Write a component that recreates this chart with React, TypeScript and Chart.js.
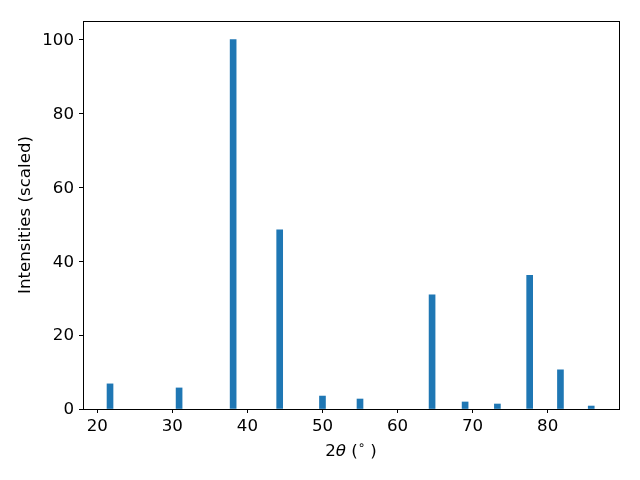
import React, { useEffect, useRef } from "react";
import { Chart, registerables } from "chart.js";

Chart.register(...registerables);

const twoTheta = [21.7, 30.9, 38.1, 44.3, 50.0, 55.0, 64.6, 69.0, 73.3, 77.6, 81.7, 85.8];
const intensities = [6.8, 5.7, 100, 48.5, 3.5, 2.7, 30.9, 1.9, 1.35, 36.2, 10.6, 0.8];
const xTicks = [20, 30, 40, 50, 60, 70, 80];
const yTicks = [0, 20, 40, 60, 80, 100];

const FONT = "'DejaVu Sans', sans-serif";
const FS = 16.67;

const boxPlugin = {
  id: "box",
  afterDraw(chart: any) {
    const { ctx, chartArea } = chart;
    ctx.save();
    ctx.strokeStyle = "#000";
    ctx.lineWidth = 1;
    ctx.strokeRect(
      Math.round(chartArea.left) + 0.5,
      Math.round(chartArea.top) + 0.5,
      Math.round(chartArea.right - chartArea.left),
      Math.round(chartArea.bottom - chartArea.top)
    );
    // x-axis label: 2θ (°) in mathtext style
    const pieces: [string, string, number, number][] = [
      ["2", "normal", FS, 0],
      ["θ", "italic", FS, 0],
      [" (", "normal", FS, 0],
      ["∘", "normal", FS * 0.7, -6],
      [" )", "normal", FS, 0],
    ];
    let total = 0;
    for (const [t, st, sz] of pieces) {
      ctx.font = `${st} ${sz}px ${FONT}`;
      total += ctx.measureText(t).width;
    }
    let x = (chartArea.left + chartArea.right) / 2 - total / 2;
    const y = 452;
    ctx.fillStyle = "#000";
    ctx.textBaseline = "middle";
    ctx.textAlign = "left";
    for (const [t, st, sz, dy] of pieces) {
      ctx.font = `${st} ${sz}px ${FONT}`;
      ctx.fillText(t, x, y + dy);
      x += ctx.measureText(t).width;
    }
    ctx.restore();
  },
};

export default function App() {
  const ref = useRef<HTMLCanvasElement>(null);
  useEffect(() => {
    document.body.style.margin = "0";
    const chart = new Chart(ref.current!, {
      type: "bar",
      data: {
        datasets: [
          {
            data: twoTheta.map((x, i) => ({ x, y: intensities[i] })),
            backgroundColor: "#1f77b4",
            borderWidth: 0,
            barThickness: 6,
          },
        ],
      },
      options: {
        responsive: false,
        animation: false,
        layout: { padding: { left: 16, right: 21, top: 21, bottom: 0 } },
        plugins: { legend: { display: false }, tooltip: { enabled: false } },
        scales: {
          x: {
            type: "linear",
            offset: false,
            min: 18.1,
            max: 89.5,
            afterBuildTicks: (s: any) => {
              s.ticks = xTicks.map((v) => ({ value: v }));
            },
            afterFit: (s: any) => {
              s.height = 480 - 409;
            },
            grid: { offset: false, drawOnChartArea: false, tickLength: 4, tickColor: "#000" },
            border: { color: "#000", width: 1 },
            ticks: { color: "#000", font: { family: FONT, size: FS }, padding: 4, maxRotation: 0, autoSkip: false },
            title: { display: false },
          },
          y: {
            type: "linear",
            min: 0,
            max: 105,
            afterBuildTicks: (s: any) => {
              s.ticks = yTicks.map((v) => ({ value: v }));
            },
            afterFit: (s: any) => {
              s.width = 83 - 16;
            },
            grid: { drawOnChartArea: false, tickLength: 4, tickColor: "#000" },
            border: { color: "#000", width: 1 },
            ticks: { color: "#000", font: { family: FONT, size: FS }, padding: 5, labelOffset: 1 },
            title: {
              display: true,
              text: "Intensities (scaled)",
              color: "#000",
              font: { family: FONT, size: FS },
              padding: 0,
            },
          },
        },
      },
      plugins: [boxPlugin],
    });
    return () => chart.destroy();
  }, []);
  return (
    <div style={{ width: 640, height: 480 }}>
      <canvas ref={ref} width={640} height={480} />
    </div>
  );
}
